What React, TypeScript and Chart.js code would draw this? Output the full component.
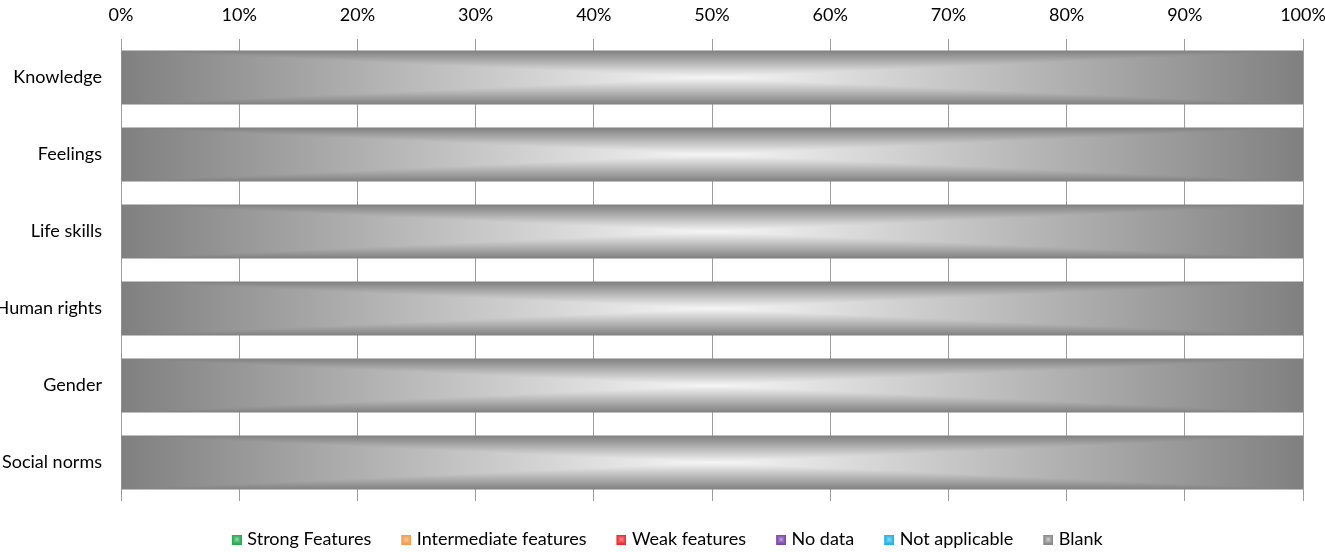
import React, { useEffect, useRef } from 'react';
import { Chart, registerables } from 'chart.js';

Chart.register(...registerables);

// Categories (rows) and series, 100% stacked
const categories = ['Knowledge', 'Feelings', 'Life skills', 'Human rights', 'Gender', 'Social norms'];
const seriesNames = ['Strong Features', 'Intermediate features', 'Weak features', 'No data', 'Not applicable', 'Blank'];
const strongFeatures = [0, 0, 0, 0, 0, 0];
const intermediateFeatures = [0, 0, 0, 0, 0, 0];
const weakFeatures = [0, 0, 0, 0, 0, 0];
const noData = [0, 0, 0, 0, 0, 0];
const notApplicable = [0, 0, 0, 0, 0, 0];
const blank = [100, 100, 100, 100, 100, 100];
const xTickValues = [0, 10, 20, 30, 40, 50, 60, 70, 80, 90, 100];

// Edge and centre colours of each series' rectangular gradient
type RGB = [number, number, number];
const edgeColors: RGB[] = [
  [30, 168, 72],
  [247, 150, 70],
  [238, 32, 40],
  [116, 64, 166],
  [20, 176, 232],
  [128, 128, 128],
];
const centerColors: RGB[] = [
  [200, 240, 212],
  [255, 226, 194],
  [255, 200, 200],
  [222, 204, 238],
  [200, 236, 252],
  [246, 246, 246],
];

const FONT_FAMILY = 'Lato, "Open Sans", sans-serif';
const FONT_SIZE = 18;
const TEXT_COLOR = '#000000';

// Fill a block of ImageData with a "from centre" rectangular gradient.
// `curve` < 1 pushes the colour towards the edge tone sooner.
function paintRect(
  img: ImageData,
  ox: number,
  oy: number,
  w: number,
  h: number,
  edge: RGB,
  center: RGB,
  curve = 1
) {
  const cx = w / 2;
  const cy = h / 2;
  for (let j = 0; j < h; j++) {
    const ty = Math.abs(j + 0.5 - cy) / cy;
    for (let i = 0; i < w; i++) {
      const tx = Math.abs(i + 0.5 - cx) / cx;
      const t = Math.pow(Math.min(1, Math.max(tx, ty)), curve);
      const k = ((oy + j) * img.width + (ox + i)) * 4;
      img.data[k] = Math.round(center[0] + (edge[0] - center[0]) * t);
      img.data[k + 1] = Math.round(center[1] + (edge[1] - center[1]) * t);
      img.data[k + 2] = Math.round(center[2] + (edge[2] - center[2]) * t);
      img.data[k + 3] = 255;
    }
  }
}

const barCache = new Map<string, HTMLCanvasElement>();
function barImage(w: number, h: number, s: number): HTMLCanvasElement {
  const key = `${w}x${h}-${s}`;
  const hit = barCache.get(key);
  if (hit) return hit;
  const c = document.createElement('canvas');
  c.width = w;
  c.height = h;
  const g = c.getContext('2d')!;
  const img = g.createImageData(w, h);
  paintRect(img, 0, 0, w, h, edgeColors[s], centerColors[s]);
  g.putImageData(img, 0, 0);
  barCache.set(key, c);
  return c;
}

// Legend swatch: a 10px gradient square sitting at the right of a wider transparent strip
const SWATCH = 10;
const STRIP_W = 33;
const STRIP_OFFSET = 23;
function legendSwatch(s: number): HTMLCanvasElement {
  const c = document.createElement('canvas');
  c.width = STRIP_W;
  c.height = SWATCH;
  const g = c.getContext('2d')!;
  const img = g.createImageData(STRIP_W, SWATCH);
  paintRect(img, STRIP_OFFSET, 0, SWATCH, SWATCH, edgeColors[s], centerColors[s], 0.5);
  g.putImageData(img, 0, 0);
  return c;
}

// Paints each bar with its gradient after the dataset has been drawn
const gradientBars = {
  id: 'gradientBars',
  afterDatasetDraw(chart: any, args: any) {
    const { ctx } = chart;
    const s = args.index;
    args.meta.data.forEach((el: any) => {
      const { x, y, base, height } = el.getProps(['x', 'y', 'base', 'height'], true);
      const left = Math.min(x, base);
      const right = Math.max(x, base);
      const w = right - left;
      if (w < 1) return;
      const img = barImage(Math.round(w), Math.round(height), s);
      ctx.drawImage(img, left, y - height / 2, w, height);
    });
  },
};

// Nudges the legend row slightly to the right of the canvas centre
const legendNudge = {
  id: 'legendNudge',
  afterLayout(chart: any) {
    const lg = chart.legend;
    if (!lg) return;
    lg.left += 6;
    lg.right += 6;
  },
};

export default function App() {
  const canvasRef = useRef<HTMLCanvasElement | null>(null);

  useEffect(() => {
    document.body.style.margin = '0';
    document.body.style.overflow = 'hidden';
    const canvas = canvasRef.current;
    if (!canvas) return;

    const values = [strongFeatures, intermediateFeatures, weakFeatures, noData, notApplicable, blank];
    const swatches = seriesNames.map((_, i) => legendSwatch(i));

    const chart = new Chart(canvas, {
      type: 'bar',
      data: {
        labels: categories,
        datasets: seriesNames.map((name, i) => ({
          label: name,
          data: values[i],
          backgroundColor: `rgb(${edgeColors[i].join(',')})`,
          borderWidth: 0,
          categoryPercentage: 0.7,
          barPercentage: 1,
        })),
      },
      options: {
        indexAxis: 'y',
        animation: false,
        responsive: true,
        maintainAspectRatio: false,
        layout: { padding: { top: 0, right: 22, bottom: -6.5, left: 0 } },
        scales: {
          x: {
            position: 'top',
            stacked: true,
            min: 0,
            max: 100,
            afterBuildTicks: (scale: any) => {
              scale.ticks = xTickValues.map((v) => ({ value: v }));
            },
            afterFit: (scale: any) => {
              scale.height = 39;
              scale.paddingLeft = 0;
              scale.paddingRight = 0;
            },
            ticks: {
              padding: 13.4,
              color: TEXT_COLOR,
              font: { family: FONT_FAMILY, size: FONT_SIZE },
              callback: (v: any) => `${v}%`,
            },
            grid: { color: '#9c9c9c', lineWidth: 1, drawTicks: false },
            border: { display: false },
          },
          y: {
            stacked: true,
            grid: { display: false, drawTicks: false },
            border: { display: false },
            ticks: {
              padding: 19,
              color: TEXT_COLOR,
              font: { family: FONT_FAMILY, size: FONT_SIZE },
            },
            afterFit: (scale: any) => {
              scale.width = 121;
              scale.paddingTop = 0;
              scale.paddingBottom = 0;
            },
          },
        },
        plugins: {
          tooltip: { enabled: false },
          legend: {
            position: 'bottom',
            title: {
              display: true,
              text: '',
              font: { size: 1, lineHeight: 1 },
              padding: { top: 0, bottom: 18 },
            },
            labels: {
              usePointStyle: true,
              pointStyleWidth: 26,
              padding: 10.5,
              color: TEXT_COLOR,
              font: { family: FONT_FAMILY, size: FONT_SIZE },
              generateLabels: (ch: any) => {
                const items = Chart.defaults.plugins.legend.labels.generateLabels(ch);
                return items.map((it: any, i: number) => ({ ...it, pointStyle: swatches[i] }));
              },
            },
          },
        },
      },
      plugins: [gradientBars, legendNudge],
    });

    return () => chart.destroy();
  }, []);

  return (
    <div style={{ position: 'relative', width: 1325, height: 552 }}>
      <canvas ref={canvasRef} />
    </div>
  );
}
